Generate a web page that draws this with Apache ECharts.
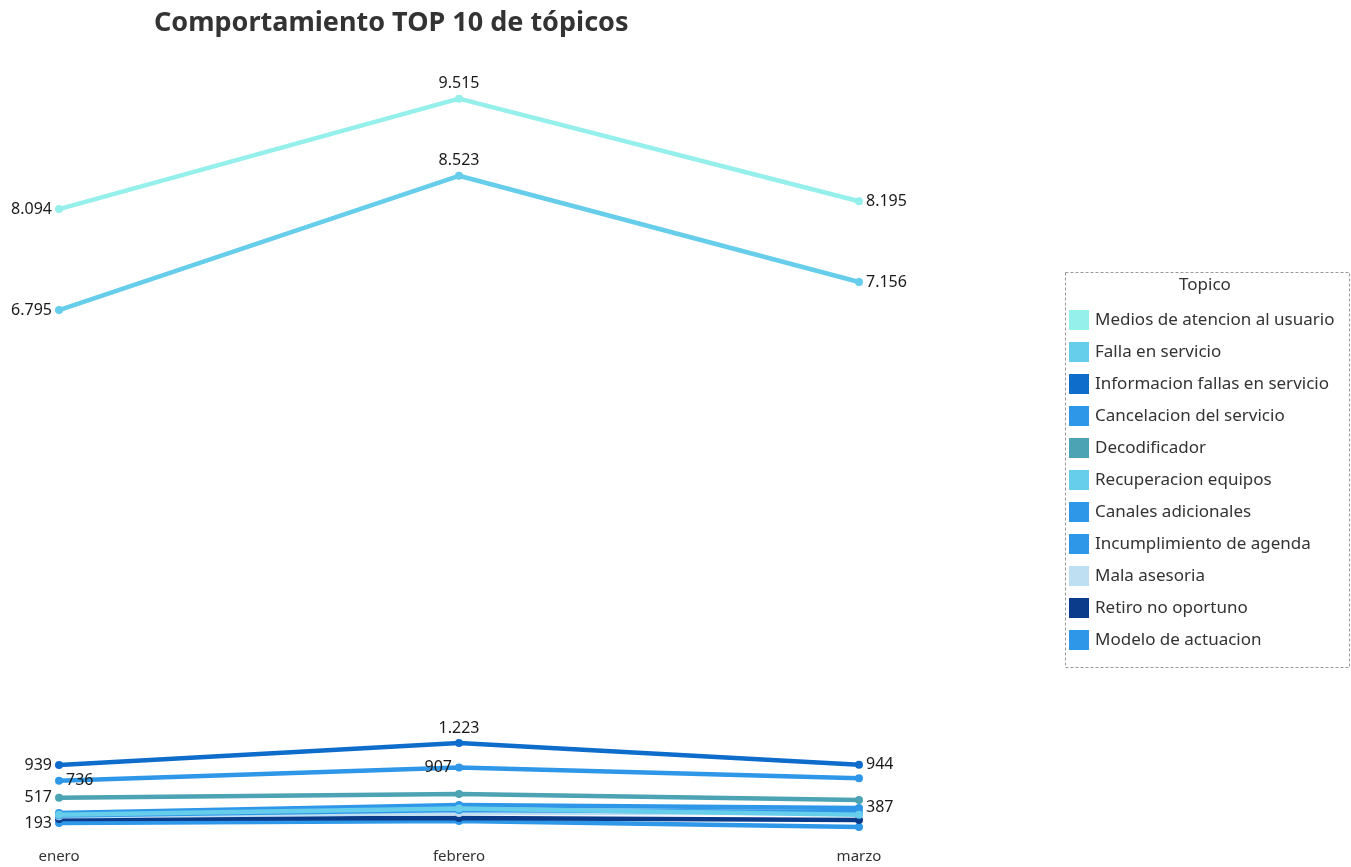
<!DOCTYPE html>
<html>
<head>
<meta charset="utf-8">
<script src="https://cdn.jsdelivr.net/npm/echarts@6/dist/echarts.min.js"></script>
<style>
html,body{margin:0;padding:0;background:#fff;}
#chart{width:1351px;height:867px;}
</style>
</head>
<body>
<div id="chart"></div>
<script>
const months = ['enero', 'febrero', 'marzo'];
const topics = [
  'Medios de atencion al usuario',
  'Falla en servicio',
  'Informacion fallas en servicio',
  'Cancelacion del servicio',
  'Decodificador',
  'Recuperacion equipos',
  'Canales adicionales',
  'Incumplimiento de agenda',
  'Mala asesoria',
  'Retiro no oportuno',
  'Modelo de actuacion'
];
const mediosAtencion = [8094, 9515, 8195];
const fallaServicio = [6795, 8523, 7156];
const informacionFallas = [939, 1223, 944];
const cancelacionServicio = [736, 907, 770];
const decodificador = [517, 566, 489];
const recuperacionEquipos = [300, 380, 300];
const canalesAdicionales = [322, 425, 387];
const incumplimientoAgenda = [290, 360, 330];
const malaAsesoria = [280, 322, 322];
const retiroNoOportuno = [245, 257, 232];
const modeloActuacion = [193, 219, 142];

const seriesValues = [mediosAtencion, fallaServicio, informacionFallas, cancelacionServicio,
  decodificador, recuperacionEquipos, canalesAdicionales, incumplimientoAgenda,
  malaAsesoria, retiroNoOportuno, modeloActuacion];

const colors = ['#95EFEB', '#66CDEB', '#0E6CCB', '#2E97E8', '#4BA3B3', '#66CDEB',
  '#2E97E8', '#2E97E8', '#BEDEF1', '#0B3C8C', '#2E97E8'];

// label positions per series per month (null = hidden)
const labelPos = [
  ['left', 'top', 'right'],
  ['left', 'top', 'right'],
  ['left', 'top', 'right'],
  ['right', 'left', null],
  ['left', null, null],
  [null, null, null],
  [null, null, 'right'],
  [null, null, null],
  [null, null, null],
  [null, null, null],
  ['left', null, null]
];

function fmt(v) {
  return String(v).replace(/\B(?=(\d{3})+(?!\d))/g, '.');
}

const font = 'Noto Sans';
const chart = echarts.init(document.getElementById('chart'));

const series = topics.map((name, i) => ({
  name: name,
  type: 'line',
  color: colors[i],
  symbol: 'circle',
  symbolSize: 8,
  z: 20 - i,
  lineStyle: { width: 4.5 },
  emphasis: { disabled: true },
  data: seriesValues[i].map((v, j) => {
    const p = labelPos[i][j];
    return {
      value: v,
      label: p ? {
        show: true, position: p, distance: 3,
        formatter: fmt(v), color: '#1a1a1a', fontSize: 16, fontFamily: font
      } : { show: false }
    };
  })
}));

chart.setOption({
  animation: false,
  title: {
    text: 'Comportamiento TOP 10 de tópicos',
    left: 149, top: 5,
    textStyle: { fontSize: 27, fontWeight: 'bold', color: '#333', fontFamily: font }
  },
  grid: { left: 59, right: 492, top: 61, bottom: 29, containLabel: false },
  xAxis: {
    type: 'category',
    data: months,
    boundaryGap: false,
    axisLine: { show: false },
    axisTick: { show: false },
    splitLine: { show: false },
    axisLabel: { color: '#333', fontSize: 15, fontFamily: font, margin: 11 }
  },
  yAxis: {
    type: 'value', min: 0, max: 10000, show: false,
    splitLine: { show: false }
  },
  legend: {
    orient: 'vertical',
    left: 1064, top: 305,
    itemWidth: 20, itemHeight: 20, itemGap: 12,
    icon: 'rect',
    selectedMode: false,
    data: topics,
    textStyle: { color: '#333', fontSize: 17, fontFamily: font, padding: [0, 0, 0, 1] }
  },
  graphic: [
    {
      type: 'rect', left: 1063, top: 270,
      shape: { width: 284, height: 395 },
      style: { fill: 'none', stroke: '#999', lineWidth: 1, lineDash: [3, 2] }
    },
    {
      type: 'text', left: 1179, top: 277,
      style: { text: 'Topico', fill: '#333', fontSize: 17, fontFamily: font }
    }
  ],
  series: series
});
</script>
</body>
</html>
